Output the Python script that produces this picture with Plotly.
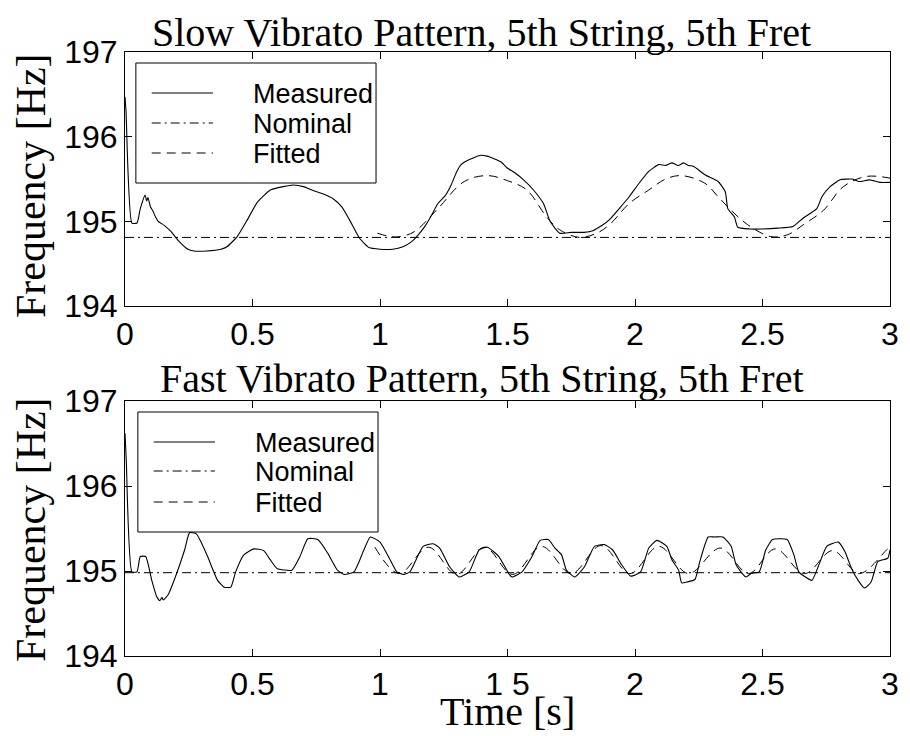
import plotly.graph_objects as go
from plotly.subplots import make_subplots

# ---------------- data ----------------
slow_t = [0.0, 0.004, 0.027, 0.047, 0.06, 0.079, 0.085, 0.09, 0.1, 0.11, 0.12, 0.13, 0.155, 0.18, 0.21,
          0.247, 0.27, 0.32, 0.376, 0.40, 0.44, 0.48, 0.52, 0.57, 0.62, 0.66, 0.70, 0.74, 0.78, 0.815,
          0.85, 0.88, 0.92, 0.957, 1.0, 1.05, 1.09, 1.124, 1.15, 1.176, 1.20, 1.227, 1.255, 1.279, 1.30,
          1.318, 1.35, 1.395, 1.42, 1.447, 1.475, 1.499, 1.53, 1.563, 1.602, 1.641, 1.667, 1.705, 1.75,
          1.80, 1.835, 1.87, 1.9, 1.938, 1.977, 2.016, 2.054, 2.093, 2.12, 2.145, 2.17, 2.19, 2.21, 2.229,
          2.274, 2.326, 2.354, 2.364, 2.39, 2.403, 2.45, 2.5, 2.56, 2.62, 2.66, 2.713, 2.733, 2.765, 2.804,
          2.85, 2.88, 2.92, 2.96, 3.0]
slow_measured = [196.47, 196.3, 194.98, 194.98, 195.15, 195.31, 195.24, 195.28, 195.17, 195.12, 195.05, 195.0,
                 194.95, 194.88, 194.77, 194.67, 194.65, 194.65, 194.67, 194.70, 194.82, 195.02, 195.23, 195.37,
                 195.41, 195.43, 195.41, 195.36, 195.32, 195.27, 195.17, 195.02, 194.80, 194.69, 194.67, 194.67,
                 194.70, 194.76, 194.84, 194.94, 195.06, 195.21, 195.30, 195.43, 195.58, 195.67, 195.73, 195.78,
                 195.77, 195.74, 195.70, 195.63, 195.57, 195.49, 195.37, 195.21, 195.0, 194.86, 194.87, 194.87,
                 194.89, 194.95, 195.02, 195.15, 195.29, 195.45, 195.59, 195.67, 195.66, 195.69, 195.66, 195.69,
                 195.66, 195.65, 195.55, 195.47, 195.35, 195.15, 195.05, 194.93, 194.91, 194.91, 194.92, 194.94,
                 195.04, 195.15, 195.29, 195.41, 195.49, 195.50, 195.47, 195.49, 195.46, 195.46]
slow_fit_t = [0.99, 1.04, 1.08, 1.136, 1.227, 1.33, 1.42, 1.50, 1.576, 1.654, 1.705, 1.783, 1.85, 1.9,
              1.977, 2.054, 2.12, 2.182, 2.274, 2.326, 2.384, 2.442, 2.532, 2.597, 2.66, 2.739, 2.817,
              2.907, 3.0]
slow_fitted = [194.86, 194.82, 194.82, 194.88, 195.15, 195.47, 195.54, 195.48, 195.37, 195.05, 194.90,
               194.81, 194.86, 194.96, 195.21, 195.37, 195.50, 195.54, 195.45, 195.29, 195.11, 194.96,
               194.82, 194.84, 194.96, 195.13, 195.41, 195.53, 195.51]
slow_nominal = 194.81

fast_t = [0.0, 0.005, 0.027, 0.047, 0.06, 0.081, 0.105, 0.124, 0.137, 0.145, 0.15, 0.169, 0.2, 0.234, 0.253,
          0.279, 0.30, 0.324, 0.363, 0.389, 0.415, 0.434, 0.466, 0.505, 0.544, 0.57, 0.596, 0.654, 0.686,
          0.717, 0.756, 0.795, 0.833, 0.859, 0.898, 0.937, 0.962, 1.0, 1.04, 1.066, 1.092, 1.117, 1.169,
          1.208, 1.234, 1.273, 1.311, 1.35, 1.389, 1.421, 1.466, 1.505, 1.518, 1.557, 1.596, 1.628, 1.66,
          1.686, 1.712, 1.731, 1.764, 1.802, 1.841, 1.88, 1.912, 1.944, 1.983, 2.022, 2.054, 2.086, 2.125,
          2.145, 2.171, 2.183, 2.203, 2.235, 2.254, 2.287, 2.313, 2.345, 2.377, 2.397, 2.435, 2.455, 2.487,
          2.513, 2.539, 2.565, 2.597, 2.623, 2.642, 2.668, 2.694, 2.726, 2.752, 2.797, 2.823, 2.849, 2.875,
          2.9, 2.926, 2.952, 2.991, 3.0]
fast_measured = [196.62, 196.3, 194.99, 194.99, 195.17, 195.17, 194.89, 194.70, 194.65, 194.69, 194.66,
                 194.72, 194.95, 195.25, 195.45, 195.44, 195.33, 195.17, 194.89, 194.81, 194.81, 194.99,
                 195.19, 195.26, 195.24, 195.13, 195.03, 195.01, 195.17, 195.38, 195.37, 195.21, 195.01,
                 194.96, 194.99, 195.25, 195.40, 195.34, 195.13, 194.99, 194.96, 194.99, 195.29, 195.32,
                 195.27, 195.05, 194.93, 194.99, 195.25, 195.28, 195.17, 194.97, 194.93, 194.99, 195.17,
                 195.36, 195.37, 195.27, 195.19, 195.01, 194.93, 195.05, 195.29, 195.31, 195.25, 195.09,
                 194.94, 194.99, 195.27, 195.36, 195.29, 195.13, 195.01, 194.86, 194.87, 194.90, 195.11,
                 195.40, 195.40, 195.40, 195.29, 195.07, 194.93, 194.97, 194.99, 195.25, 195.37, 195.38,
                 195.37, 195.19, 194.99, 194.93, 194.89, 195.11, 195.29, 195.34, 195.23, 195.03, 194.89,
                 194.80, 194.87, 195.11, 195.15, 195.25]
fast_fit_t = [0.98, 1.075, 1.19, 1.30, 1.41, 1.52, 1.634, 1.75, 1.867, 1.98, 2.093, 2.21, 2.335, 2.445,
              2.55, 2.665, 2.775, 2.88, 2.995, 3.0]
fast_fitted = [195.28, 194.97, 195.28, 194.96, 195.28, 194.96, 195.29, 194.97, 195.30, 194.97, 195.29,
               194.97, 195.27, 194.97, 195.26, 194.97, 195.24, 194.97, 195.27, 195.27]
fast_nominal = 194.98

titles = ["Slow Vibrato Pattern, 5th String, 5th Fret", "Fast Vibrato Pattern, 5th String, 5th Fret"]
x_ticks = [0, 0.5, 1, 1.5, 2, 2.5, 3]
x_ticktext_top = ["0", "0.5", "1", "1.5", "2", "2.5", "3"]
x_ticktext_bottom = ["0", "0.5", "1", "1 5", "2", "2.5", "3"]
y_ticks = [194, 195, 196, 197]
legend_labels = ["Measured", "Nominal", "Fitted"]

# ---------------- layout helpers ----------------
W, H = 910, 736
ML, MR, MT, MB = 125, 11, 52, 80
PW, PH = W - ML - MR, H - MT - MB


def px_x(px):
    return (px - ML) / PW


def px_y(py):
    return (H - MB - py) / PH


SANS = "Liberation Sans, Arial, Helvetica, sans-serif"
SERIF = "Liberation Serif, Times New Roman, serif"
LINE = "black"
DASHDOT = "9px,4px,2px,4px"
DASH = "9px,6px"

fig = make_subplots(rows=2, cols=1)

panels = [
    (slow_t, slow_measured, slow_fit_t, slow_fitted, slow_nominal),
    (fast_t, fast_measured, fast_fit_t, fast_fitted, fast_nominal),
]
for i, (t, m, ft, fv, nom) in enumerate(panels, start=1):
    fig.add_trace(go.Scatter(x=t, y=m, mode="lines", name="Measured", showlegend=False,
                             line=dict(color=LINE, width=1.1, shape="spline", smoothing=0.5)),
                  row=i, col=1)
    fig.add_trace(go.Scatter(x=[0, 3], y=[nom, nom], mode="lines", name="Nominal", showlegend=False,
                             line=dict(color=LINE, width=1, dash=DASHDOT)), row=i, col=1)
    fig.add_trace(go.Scatter(x=ft, y=fv, mode="lines", name="Fitted", showlegend=False,
                             line=dict(color=LINE, width=1, dash=DASH, shape="spline", smoothing=1)),
                  row=i, col=1)

axis_common = dict(showline=True, linecolor="black", linewidth=1, mirror="ticks", ticks="inside",
                   ticklen=7, tickcolor="black", showgrid=False, zeroline=False,
                   tickfont=dict(family=SANS, size=32, color="black"))

top_dom = [px_y(306), px_y(52)]
bot_dom = [px_y(656), px_y(401)]
fig.update_layout(
    xaxis=dict(domain=[0, 1], range=[0, 3], tickvals=x_ticks, ticktext=x_ticktext_top, **axis_common),
    xaxis2=dict(domain=[0, 1], range=[0, 3], tickvals=x_ticks, ticktext=x_ticktext_bottom, **axis_common),
    yaxis=dict(domain=top_dom, range=[194, 197], tickvals=y_ticks, **axis_common),
    yaxis2=dict(domain=bot_dom, range=[194, 197], tickvals=y_ticks, **axis_common),
)

shapes = []
annotations = []

# legends (one per panel)
legend_boxes = [(136, 63, 379, 183, [93, 123, 153]), (138, 412, 381, 532, [442, 471, 502])]
dashes = ["solid", DASHDOT, DASH]
for (x0, y0, x1, y1, rows) in legend_boxes:
    shapes.append(dict(type="rect", xref="paper", yref="paper", x0=px_x(x0), x1=px_x(x1),
                       y0=px_y(y1), y1=px_y(y0), line=dict(color="black", width=1),
                       fillcolor="white", layer="above"))
    for lab, ry, d in zip(legend_labels, rows, dashes):
        shapes.append(dict(type="line", xref="paper", yref="paper", x0=px_x(x0 + 16), x1=px_x(x0 + 78),
                           y0=px_y(ry), y1=px_y(ry), line=dict(color="black", width=1, dash=d),
                           layer="above"))
        annotations.append(dict(text=lab, xref="paper", yref="paper", x=px_x(x0 + 116), y=px_y(ry + 1),
                                xanchor="left", yanchor="middle", showarrow=False,
                                font=dict(family=SANS, size=27, color="black")))

# titles
for title, cy in zip(titles, [32, 379]):
    annotations.append(dict(text=title, xref="paper", yref="paper", x=px_x(486), y=px_y(cy),
                            xanchor="center", yanchor="middle", showarrow=False,
                            font=dict(family=SERIF, size=40, color="black")))
# y titles
for cy in [186, 530]:
    annotations.append(dict(text="Frequency [Hz]", xref="paper", yref="paper", x=px_x(30), y=px_y(cy),
                            xanchor="center", yanchor="middle", textangle=-90, showarrow=False,
                            font=dict(family=SERIF, size=42, color="black")))
# x title
annotations.append(dict(text="Time [s]", xref="paper", yref="paper", x=px_x(512), y=px_y(736),
                        xanchor="center", yanchor="bottom", showarrow=False,
                        font=dict(family=SERIF, size=40, color="black")))

fig.update_layout(
    width=W, height=H,
    margin=dict(l=ML, r=MR, t=MT, b=MB),
    paper_bgcolor="white", plot_bgcolor="white",
    showlegend=False,
    shapes=shapes, annotations=annotations,
)

fig.write_html("out.html")
